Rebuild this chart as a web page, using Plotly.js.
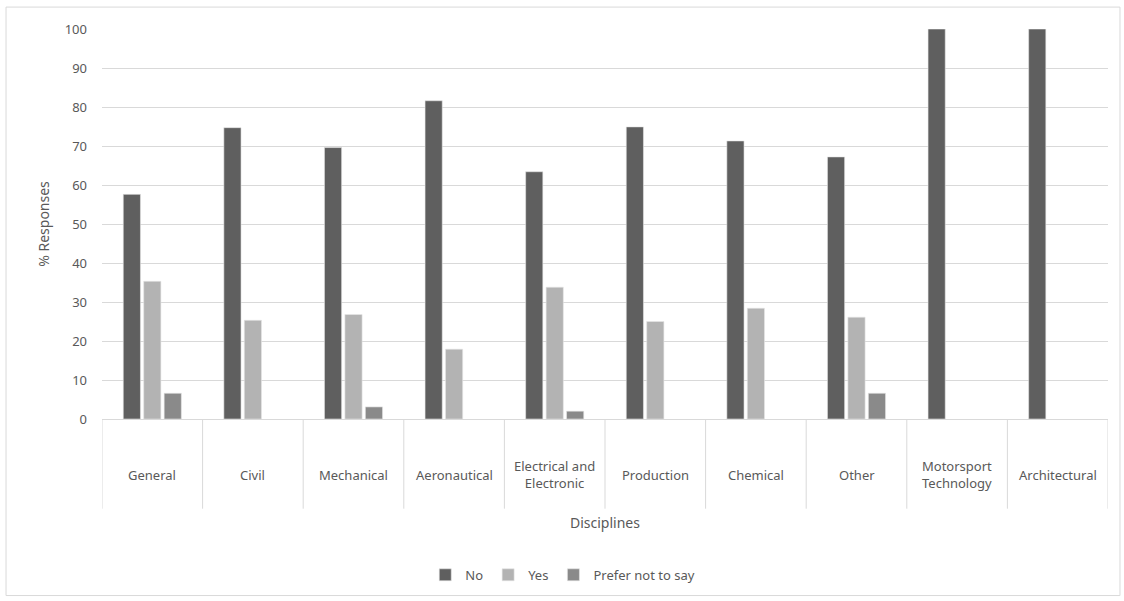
<!DOCTYPE html>
<html><head><meta charset="utf-8">
<script src="https://cdn.plot.ly/plotly-3.0.1.min.js"></script>
<style>body{margin:0;background:#fff}#c{width:1124px;height:601px}</style>
</head><body><div id="c"></div>
<script>
const categories = ["General","Civil","Mechanical","Aeronautical","Electrical and Electronic","Production","Chemical","Other","Motorsport Technology","Architectural"];
const categoryLabels = ["General","Civil","Mechanical","Aeronautical","Electrical and<br>Electronic","Production","Chemical","Other","Motorsport<br>Technology","Architectural"];
const noVals = [57.6, 74.7, 69.6, 81.6, 63.4, 74.9, 71.3, 67.2, 100, 100];
const yesVals = [35.3, 25.3, 26.8, 17.9, 33.8, 25.0, 28.4, 26.1, null, null];
const preferVals = [6.6, null, 3.1, null, 2.0, null, null, 6.6, null, null];
const seriesNames = ["No","Yes","Prefer not to say"];
const colors = ["#5f5f5f","#b3b3b3","#8a8a8a"];
const xTitle = "Disciplines";
const yTitle = "% Responses";

const font = {family:"Noto Sans, Open Sans, sans-serif", size:13, color:"#595959"};
const idx = categories.map((c,i)=>i);
const traces = [noVals, yesVals, preferVals].map((v,k)=>({
  type:"bar", name:seriesNames[k], x:idx, y:v,
  marker:{color:colors[k], line:{color:"#e6e6e6", width:0.6}},
  hoverinfo:"y"
}));

const shapes = [];
for (let i=0;i<=categories.length;i++){
  shapes.push({type:"line", xref:"x", yref:"paper", x0:i-0.5, x1:i-0.5, y0:0, y1:-0.23, line:{color:"#d9d9d9", width:1}});
}
shapes.push({type:"rect", xref:"paper", yref:"paper", x0:-0.0954, x1:1.0119, y0:1.0562, y1:-0.4527, line:{color:"#d9d9d9", width:1}, fillcolor:"rgba(0,0,0,0)", layer:"below"});

const annotations = categoryLabels.map((t,i)=>({
  xref:"x", yref:"paper", x:i, y:-0.1432, text:t, showarrow:false,
  xanchor:"center", yanchor:"middle", font:font
}));
annotations.push({xref:"paper", yref:"paper", x:0.5, y:-0.266, text:xTitle, showarrow:false,
  xanchor:"center", yanchor:"middle", font:{family:font.family, size:14, color:"#595959"}});

const layout = {
  width:1124, height:601,
  margin:{l:102, r:16, t:29, b:181},
  paper_bgcolor:"#fff", plot_bgcolor:"#fff",
  barmode:"group", bargap:0.39, bargroupgap:0.16,
  font:font,
  showlegend:true,
  legend:{orientation:"h", x:0.458, xanchor:"center", y:-0.396, yanchor:"middle", font:font, itemwidth:30, traceorder:"normal"},
  xaxis:{range:[-0.5,9.5], showticklabels:false, ticks:"", showgrid:false, zeroline:false, showline:false},
  yaxis:{range:[0,100], dtick:10, tick0:0, gridcolor:"#d9d9d9", gridwidth:1, zeroline:true, zerolinecolor:"#d9d9d9", zerolinewidth:1,
         showline:false, ticks:"", ticklabelstandoff:14, tickfont:font,
         title:{text:yTitle, font:{family:font.family, size:14, color:"#595959"}, standoff:11}},
  shapes:shapes, annotations:annotations
};
Plotly.newPlot("c", traces, layout, {staticPlot:true});
</script></body></html>
